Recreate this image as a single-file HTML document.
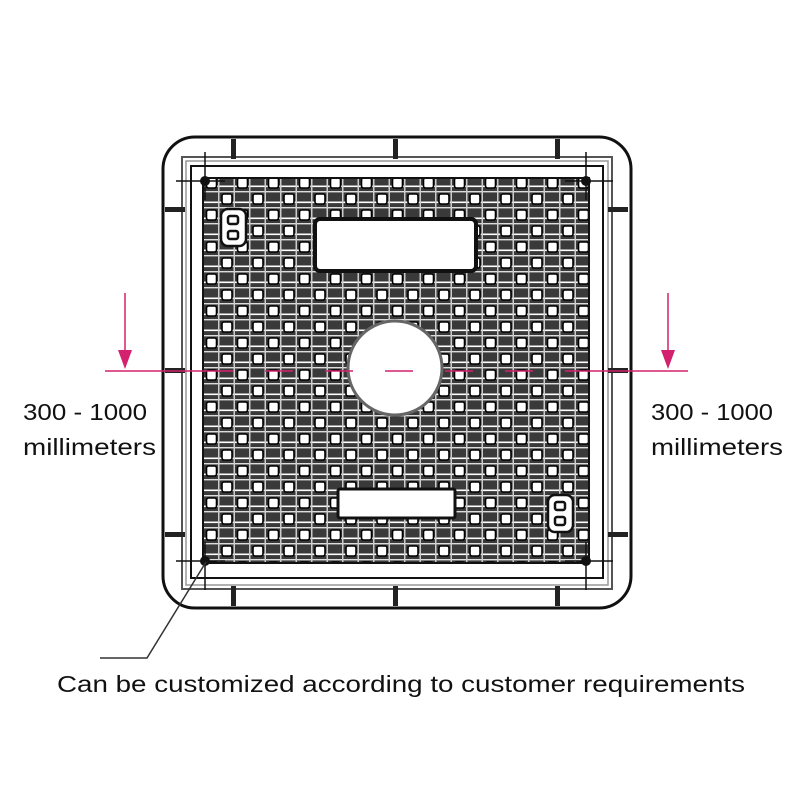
<!DOCTYPE html>
<html><head><meta charset="utf-8"><style>
html,body{margin:0;padding:0;background:#fff;width:800px;height:800px;overflow:hidden}
svg{display:block}
text{font-family:"Liberation Sans",sans-serif;fill:#111}
</style></head><body>
<svg width="800" height="800" viewBox="0 0 800 800" xmlns="http://www.w3.org/2000/svg">
<defs>
<pattern id="g" x="205" y="179" width="31" height="32" patternUnits="userSpaceOnUse">
<rect width="31" height="32" fill="#3a3a3a"/>
<rect x="0" y="6.5" width="31" height="1.6" fill="#fff"/>
<rect x="0" y="22.5" width="31" height="1.6" fill="#fff"/>
<rect x="0" y="12" width="31" height="1.4" fill="#ddd"/>
<rect x="0" y="28" width="31" height="1.4" fill="#ddd"/>
<rect x="13" y="0" width="1.5" height="32" fill="#ccc"/>
<rect x="28.5" y="0" width="1.5" height="32" fill="#ccc"/>
<rect x="1.5" y="-1" width="10" height="10" rx="2" fill="#fff" stroke="#000" stroke-width="1.6"/>
<rect x="1.5" y="31" width="10" height="10" rx="2" fill="#fff" stroke="#000" stroke-width="1.6"/>
<rect x="17" y="15" width="10" height="10" rx="2" fill="#fff" stroke="#000" stroke-width="1.6"/>
</pattern>
</defs>
<rect x="163" y="137" width="468" height="471" rx="32" fill="#fff" stroke="#111" stroke-width="3"/>
<rect x="182" y="157" width="430" height="432" fill="none" stroke="#555" stroke-width="2"/>
<rect x="186" y="161" width="422" height="424" fill="none" stroke="#999" stroke-width="1.5"/>
<rect x="191" y="166" width="412" height="412" fill="none" stroke="#111" stroke-width="2"/>
<g fill="#222">
<rect x="231" y="139" width="5" height="20"/><rect x="393" y="139" width="5" height="20"/><rect x="555" y="139" width="5" height="20"/>
<rect x="231" y="586" width="5" height="20"/><rect x="393" y="586" width="5" height="20"/><rect x="555" y="586" width="5" height="20"/>
<rect x="165" y="207" width="20" height="5"/><rect x="165" y="368" width="20" height="5"/><rect x="165" y="532" width="20" height="5"/>
<rect x="608" y="207" width="20" height="5"/><rect x="608" y="368" width="20" height="5"/><rect x="608" y="532" width="20" height="5"/>
</g>
<rect x="203" y="178" width="386" height="385" fill="url(#g)" stroke="#111" stroke-width="2"/>
<g stroke="#111" stroke-width="1.5">
<line x1="176" y1="181" x2="225" y2="181"/><line x1="205" y1="152" x2="205" y2="200"/>
<line x1="565" y1="181" x2="613" y2="181"/><line x1="586" y1="152" x2="586" y2="200"/>
<line x1="176" y1="561" x2="225" y2="561"/><line x1="205" y1="542" x2="205" y2="590"/>
<line x1="565" y1="561" x2="613" y2="561"/><line x1="586" y1="542" x2="586" y2="590"/>
</g>
<g fill="#111"><circle cx="205" cy="181" r="5"/><circle cx="586" cy="181" r="5"/><circle cx="205" cy="561" r="5"/><circle cx="586" cy="561" r="5"/></g>
<rect x="315" y="219" width="161" height="52" rx="5" fill="#fff" stroke="#111" stroke-width="4"/>
<rect x="338" y="489" width="117" height="29" rx="2" fill="#fff" stroke="#111" stroke-width="3"/>
<circle cx="395" cy="368" r="47" fill="#fff" stroke="#666" stroke-width="3"/>
<rect x="221" y="209" width="25" height="37" rx="7" fill="#fff" stroke="#111" stroke-width="2.5"/>
<rect x="228" y="216" width="10" height="8" rx="2" fill="#fff" stroke="#111" stroke-width="2.5"/>
<rect x="228" y="231" width="10" height="8" rx="2" fill="#fff" stroke="#111" stroke-width="2.5"/>
<rect x="548" y="495" width="25" height="37" rx="7" fill="#fff" stroke="#111" stroke-width="2.5"/>
<rect x="555" y="502" width="10" height="8" rx="2" fill="#fff" stroke="#111" stroke-width="2.5"/>
<rect x="555" y="517" width="10" height="8" rx="2" fill="#fff" stroke="#111" stroke-width="2.5"/>
<g stroke="#d3216e" stroke-width="1.5" fill="none">
<line x1="105" y1="371" x2="205" y2="371"/>
<line x1="205" y1="371" x2="585" y2="371" stroke-dasharray="28 32"/>
<line x1="585" y1="371" x2="688" y2="371"/>
<line x1="125" y1="293" x2="125" y2="355"/>
<line x1="668" y1="293" x2="668" y2="355"/>
</g>
<g fill="#d3216e"><polygon points="118,350 132,350 125,369"/><polygon points="661,350 675,350 668,369"/></g>
<polyline points="100,658 147,658 206,562" fill="none" stroke="#333" stroke-width="1.5"/>
<text x="23" y="420" font-size="23" textLength="124" lengthAdjust="spacingAndGlyphs">300 - 1000</text>
<text x="23" y="455" font-size="23" textLength="133" lengthAdjust="spacingAndGlyphs">millimeters</text>
<text x="651" y="420" font-size="23" textLength="122" lengthAdjust="spacingAndGlyphs">300 - 1000</text>
<text x="651" y="455" font-size="23" textLength="132" lengthAdjust="spacingAndGlyphs">millimeters</text>
<text x="57" y="692" font-size="23" textLength="688" lengthAdjust="spacingAndGlyphs">Can be customized according to customer requirements</text>
</svg>
</body></html>
